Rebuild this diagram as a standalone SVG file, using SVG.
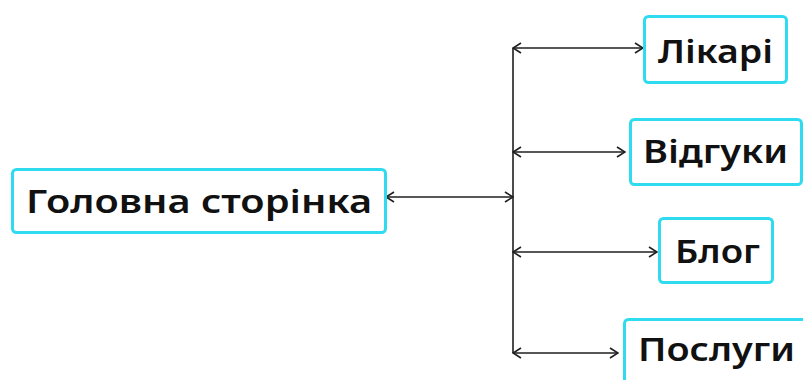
<svg xmlns="http://www.w3.org/2000/svg" width="803" height="380" viewBox="0 0 803 380">
  <style>
    .box { fill: #ffffff; stroke: #2fdcef; stroke-width: 3; }
    .label { font-family: "Noto Sans", "DejaVu Sans", sans-serif; font-size: 32px; font-weight: 600; fill: #111111; }
    .wire { fill: none; stroke: #1f1f1f; stroke-width: 1.6; }
  </style>
  <defs>
    <marker id="head" viewBox="0 0 10 12" refX="9" refY="6" markerWidth="10" markerHeight="12" markerUnits="userSpaceOnUse" orient="auto-start-reverse">
      <path d="M1,1 L9,6 L1,11" fill="none" stroke="#1f1f1f" stroke-width="1.6"/>
    </marker>
  </defs>

  <g id="connectors">
    <line class="wire" x1="513" y1="48" x2="513" y2="353"/>
    <line class="wire" x1="386" y1="197" x2="513" y2="197" marker-start="url(#head)" marker-end="url(#head)"/>
    <line class="wire" x1="513" y1="48" x2="643" y2="48" marker-start="url(#head)" marker-end="url(#head)"/>
    <line class="wire" x1="513" y1="152" x2="625" y2="152" marker-start="url(#head)" marker-end="url(#head)"/>
    <line class="wire" x1="513" y1="252" x2="657" y2="252" marker-start="url(#head)" marker-end="url(#head)"/>
    <line class="wire" x1="513" y1="353" x2="618" y2="353" marker-start="url(#head)" marker-end="url(#head)"/>
  </g>

  <g id="home">
    <rect class="box" x="12.5" y="169.5" width="373" height="63" rx="4"/>
    <text class="label" x="26" y="213" textLength="346" lengthAdjust="spacingAndGlyphs">Головна сторінка</text>
  </g>

  <g id="doctors">
    <rect class="box" x="644.5" y="16.5" width="142" height="66" rx="4"/>
    <text class="label" x="658" y="63" textLength="115" lengthAdjust="spacingAndGlyphs">Лікарі</text>
  </g>

  <g id="reviews">
    <rect class="box" x="630.5" y="119.5" width="171" height="65" rx="4"/>
    <text class="label" x="643" y="163" textLength="145" lengthAdjust="spacingAndGlyphs">Відгуки</text>
  </g>

  <g id="blog">
    <rect class="box" x="659.5" y="218.5" width="113" height="64" rx="4"/>
    <text class="label" x="675" y="263" textLength="85" lengthAdjust="spacingAndGlyphs">Блог</text>
  </g>

  <g id="services">
    <rect class="box" x="624.5" y="319.5" width="190" height="70" rx="4"/>
    <text class="label" x="638" y="361" textLength="157" lengthAdjust="spacingAndGlyphs">Послуги</text>
  </g>
</svg>
